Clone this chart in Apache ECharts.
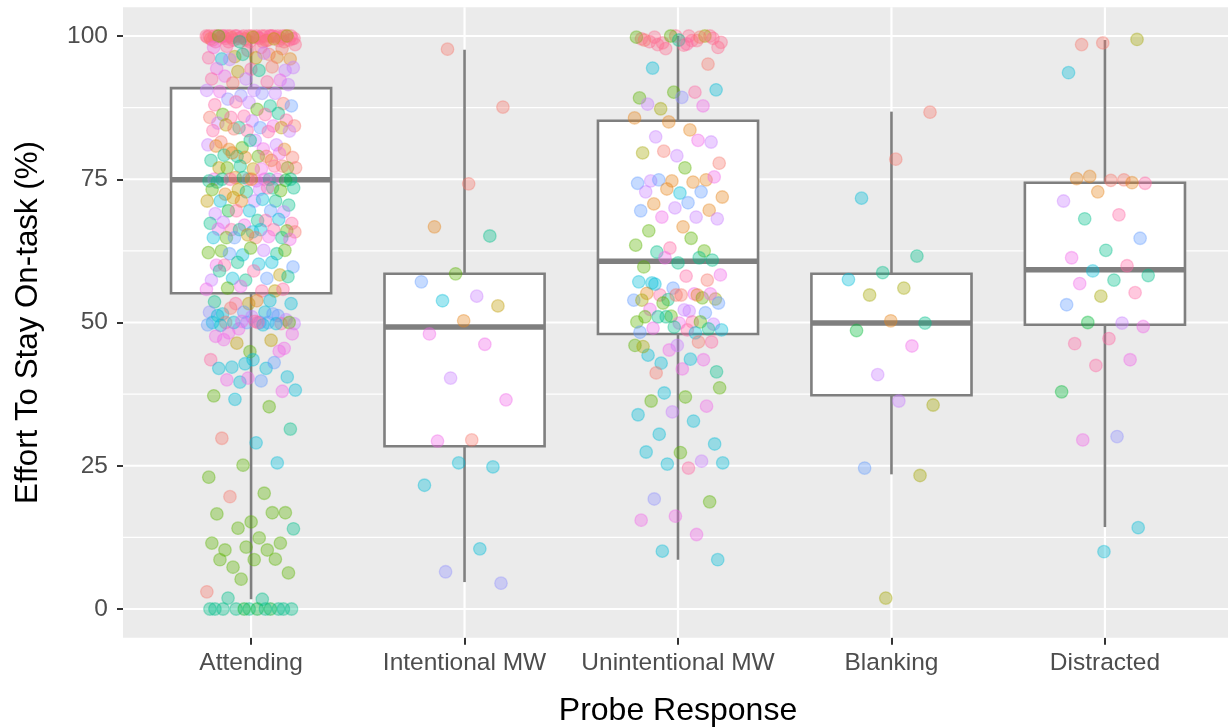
<!DOCTYPE html>
<html><head><meta charset="utf-8">
<script src="https://cdn.jsdelivr.net/npm/echarts@6/dist/echarts.min.js"></script>
<style>html,body{margin:0;padding:0;background:#fff}#c{width:1228px;height:727px}</style>
</head><body><div id="c"></div>
<script>
// ---- data ----
const categories = ['Attending', 'Intentional MW', 'Unintentional MW', 'Blanking', 'Distracted'];
const yTicks = [0, 25, 50, 75, 100];
const yMinorTicks = [12.5, 37.5, 62.5, 87.5];

const boxMin    = [1.7, 4.7, 8.6, 23.5, 14.3];
const boxQ1     = [55.1, 28.4, 48.0, 37.3, 49.6];
const boxMedian = [74.9, 49.2, 60.7, 49.9, 59.2];
const boxQ3     = [90.9, 58.5, 85.2, 58.5, 74.4];
const boxMax    = [100, 97.6, 100, 86.8, 99.3];

// points: [value, participant colour group]
const attendingPoints = [
 [100,'h'],[100,'h'],[100,'h'],[100,'h'],[100,'h'],[100,'h'],[100,'h'],[100,'h'],[100,'h'],[100,'h'],
 [100,'h'],[100,'h'],[100,'h'],[100,'h'],[100,'h'],[100,'h'],[100,'h'],[100,'h'],[100,'h'],[100,'h'],
 [99.6,'h'],[99.6,'h'],[99.6,'h'],[99.6,'h'],[99.6,'h'],[99.3,'h'],[99.3,'h'],[99.3,'h'],[99.3,'h'],[99.3,'h'],
 [99.8,'h'],[99.8,'h'],[99.8,'h'],[99.8,'h'],[99.8,'h'],[99.0,'h'],[99.0,'h'],[99.0,'h'],[99.0,'h'],[99.0,'h'],
 [100,'p'],[100,'p'],[99.5,'p'],[99.7,'p'],[100,'p'],[99.2,'p'],
 [99.5,'r'],[99.5,'r'],[99.2,'r'],[99.7,'r'],[100,'l'],[99.8,'l'],[100,'g'],[99.5,'y'],[99,'t'],
 [98.5,'h'],[98,'h'],[98.2,'p'],[97.8,'r'],[97.5,'h'],[98,'m'],
 [96.8,'r'],[96.4,'y'],[96,'o'],[96.2,'y'],[96,'c'],[96.3,'o'],[96.8,'t'],[96.2,'p'],[97,'v'],[95.9,'v'],
 [94,'v'],[94.2,'p'],[94.3,'m'],[94.6,'r'],[93.8,'y'],[94.5,'v'],[94,'t'],[93,'m'],
 [92.3,'m'],[92.5,'v'],[92.5,'p'],[92,'p'],[91.8,'r'],[91.5,'v'],
 [90.5,'v'],[90.3,'m'],[90,'v'],[89.6,'B'],[90.5,'v'],[90,'B'],[89,'B'],
 [88.2,'r'],[88.4,'v'],[88,'p'],[87.8,'t'],[88.5,'p'],[87.8,'b'],[87.2,'g'],
 [86.3,'g'],[86.5,'t'],[86,'p'],[85.8,'r'],[86.3,'p'],[85.8,'p'],[85.3,'p'],[85.2,'v'],[84.8,'v'],
 [84.3,'m'],[84,'t'],[84.3,'r'],[84,'b'],[84.5,'y'],[84,'y'],[83.5,'p'],
 [83.5,'p'],[83.3,'p'],[83.8,'r'],[83.4,'v'],
 [81.8,'v'],[81.5,'r'],[81,'v'],[80.5,'g'],[81,'v'],[80.3,'m'],[80.2,'o'],[80.2,'o'],[81.8,'t'],[80.8,'o'],
 [78.3,'o'],[79,'t'],[78.8,'r'],[79,'g'],[79.2,'t'],[79.5,'m'],[78.8,'o'],[78.3,'t'],[79,'r'],[79.6,'o'],
 [77,'g'],[76.8,'y'],[77,'y'],[77.3,'p'],[77.3,'t'],[77,'r'],[76.8,'m'],[77,'g'],[77.3,'r'],
 [75,'p'],[75,'m'],[75,'t'],[75.3,'o'],[75,'t'],[74.7,'m'],[75,'t'],[75,'m'],[75.3,'t'],[74.7,'t'],
 [75,'m'],[75,'p'],[74.8,'G'],[75,'o'],[74.5,'t'],
 [73.5,'t'],[73.2,'y'],[73.5,'t'],[73.2,'v'],[72.4,'o'],[73,'g'],[72.8,'t'],[73.2,'g'],[73.5,'p'],
 [71.8,'y'],[70.5,'t'],[71.2,'v'],[71.2,'c'],[71.2,'t'],[71.2,'o'],[71.2,'y'],[71.5,'c'],
 [69.5,'G'],[69.3,'v'],[69.5,'c'],[69,'v'],[69.5,'b'],[69.5,'p'],
 [67.3,'p'],[67.8,'t'],[67.5,'v'],[68,'c'],[67,'m'],[67.3,'t'],[67.8,'p'],
 [66.2,'p'],[66,'g'],[65.8,'c'],[66.3,'m'],[66.2,'p'],[66.2,'t'],[65.8,'r'],[66.2,'c'],
 [64.8,'g'],[64.8,'t'],[65.3,'y'],[64.8,'c'],[65,'m'],[64.8,'b'],[64.5,'m'],[64.8,'r'],
 [62.5,'g'],[62,'t'],[61.8,'c'],[62.2,'g'],[62.6,'v'],[62,'b'],[62.6,'g'],[63,'g'],
 [60,'m'],[60.5,'c'],[60.5,'t'],[59.7,'b'],[60.2,'c'],[60,'p'],
 [58.3,'y'],[57.4,'t'],[57.4,'v'],[57.7,'b'],[57.7,'c'],[58,'t'],[59,'p'],[59,'t'],
 [55.5,'y'],[56.3,'m'],[55.8,'m'],[55.5,'p'],[56,'g'],[55.8,'p'],
 [53.3,'y'],[53.6,'t'],[53.8,'c'],[53.3,'p'],[53.3,'c'],[53.8,'o'],
 [51.5,'c'],[51.2,'b'],[51.8,'b'],[51.8,'B'],[51.8,'c'],[52.5,'r'],[50.5,'v'],[51,'v'],[51.2,'c'],[51.5,'b'],
 [48.9,'m'],[49.8,'v'],[50,'b'],[50,'r'],[49.8,'p'],[50,'b'],
 [50,'c'],[50,'b'],[50,'c'],[50,'g'],[50.2,'p'],[49.5,'c'],[49.8,'c'],[50.2,'m'],[49.6,'b'],[49.6,'c'],
 [48.2,'m'],[45.5,'m'],[44.9,'g'],[47.6,'m'],[46.9,'y'],[46.4,'y'],[48,'m'],[50,'p'],[47,'m'],[45,'m'],
 [42.8,'c'],[43.5,'p'],[42,'c'],[42.2,'c'],[40.5,'c'],[43.5,'c'],[42,'c'],[43,'b'],
 [39.6,'c'],[38.2,'c'],[39.8,'b'],[40,'m'],[38,'m'],[40.3,'m'],[37.2,'g'],[35.3,'g'],[36.6,'c'],
 [31.4,'t'],[29,'c'],[29.8,'r'],[25.5,'c'],[25.1,'g'],[23,'g'],[20.2,'g'],[19.6,'r'],
 [16.8,'g'],[15.2,'g'],[16.6,'g'],[16.8,'g'],[14.1,'g'],[14,'t'],[12.4,'g'],[10.3,'g'],[11.5,'g'],
 [10.8,'g'],[11.5,'g'],[10.3,'g'],[7.3,'g'],[6.3,'g'],[8.6,'g'],[8.6,'g'],[8.7,'g'],[5.2,'g'],[3,'r'],
 [1.7,'t'],[1.9,'t'],
 [0,'t'],[0,'t'],[0,'t'],[0,'G'],[0,'t'],[0,'t'],[0,'G'],[0,'t'],[0,'t'],[0,'G'],[0,'t'],[0,'t']
];

const intentionalPoints = [
 [97.7,'r'],[87.6,'r'],[74.2,'r'],[66.7,'o'],[65.1,'t'],[58.5,'g'],[57.1,'b'],[54.6,'v'],
 [53.8,'c'],[52.9,'y'],[50.3,'o'],[48,'m'],[46.2,'m'],[40.3,'v'],[36.5,'m'],[29.5,'r'],
 [29.3,'m'],[24.8,'c'],[25.5,'c'],[21.6,'c'],[10.5,'c'],[6.5,'B'],[4.5,'B']
];

const unintentionalPoints = [
 [100,'h'],[99.8,'h'],[100,'h'],[100,'h'],[99.5,'h'],[99.2,'h'],[98.8,'h'],[98,'h'],[98.4,'h'],[99,'h'],
 [100,'l'],[100,'g'],[99.8,'g'],[99.2,'h'],[98.5,'h'],[99.6,'h'],[99.3,'t'],[99.3,'r'],[99.8,'r'],[97.8,'h'],
 [98.9,'h'],[98.6,'p'],
 [94.4,'c'],[95.1,'r'],[90.2,'g'],[89.2,'g'],[90.2,'p'],[87.3,'l'],[90.6,'c'],[89.3,'B'],[88.1,'v'],[87.8,'m'],
 [85,'o'],[85.7,'o'],[83.6,'o'],[82.4,'v'],[81.5,'v'],[79.1,'v'],[79.6,'l'],[81.8,'m'],[79.9,'r'],[77.8,'r'],
 [77,'g'],[74.7,'v'],[74.9,'o'],[74.7,'o'],[74.3,'b'],[74.5,'o'],[74.9,'b'],[75.4,'m'],[72.6,'c'],[72.8,'v'],
 [72.8,'b'],[73.3,'o'],[71.9,'o'],[70.9,'b'],[70.7,'o'],[69.6,'o'],[70,'v'],[69.5,'b'],[68.4,'v'],[68.4,'m'],
 [68.1,'v'],[66.7,'o'],[66,'g'],[62.5,'g'],[63,'p'],[63.5,'g'],[64.7,'g'],[62.3,'t'],[60.9,'t'],[60.4,'t'],
 [59.7,'g'],[61.3,'t'],[61.3,'m'],[58.3,'m'],[58.1,'p'],[56.9,'c'],[57.4,'r'],[56,'b'],[57.1,'c'],[55,'m'],
 [54.8,'p'],[54.1,'l'],[54.8,'r'],[55.1,'o'],[54.3,'g'],[54,'t'],[53.9,'b'],[52,'v'],[56.7,'c'],[55,'m'],
 [54.8,'r'],[53.9,'l'],[54.8,'o'],[53.4,'g'],[53.4,'b'],[52.2,'v'],[52.3,'m'],[51.7,'b'],[51.1,'g'],[50.1,'g'],
 [50.1,'p'],[51,'t'],[49.7,'v'],[49.9,'m'],[51,'g'],[50.1,'g'],[51,'t'],[48.7,'c'],[48.7,'p'],[49,'m'],
 [48.9,'t'],[49.2,'t'],[48.3,'b'],[48.2,'c'],
 [42.9,'c'],[41.4,'t'],[41.9,'m'],[44.3,'c'],[43.5,'m'],[45.2,'m'],[46,'g'],[43.6,'c'],[41.2,'r'],[46.6,'p'],
 [46,'v'],[45.8,'l'],[46.6,'r'],[37.7,'c'],[38.6,'g'],[37,'g'],[36.3,'g'],[35.4,'m'],[34.4,'v'],[33.9,'c'],
 [32.8,'c'],[30.5,'c'],[28.8,'c'],[27.3,'g'],[27.4,'c'],[25.8,'v'],[25.3,'c'],[25.5,'c'],[24.6,'p'],[19.2,'B'],
 [18.7,'g'],[16.2,'m'],[15.5,'m'],[13,'m'],[10.1,'c'],[8.6,'c']
];

const blankingPoints = [
 [86.7,'r'],[78.5,'r'],[71.7,'c'],[61.6,'t'],[58.7,'t'],[57.5,'c'],[56,'l'],[54.8,'l'],[49.9,'t'],
 [50.3,'o'],[48.6,'G'],[45.9,'m'],[40.9,'v'],[35.6,'l'],[36.3,'v'],[24.6,'b'],[23.3,'l'],[1.9,'l']
];

const distractedPoints = [
 [98.5,'r'],[99.4,'l'],[98.8,'r'],[93.6,'c'],[74.9,'r'],[75.5,'o'],[74.3,'p'],[74.8,'r'],[75.1,'o'],[74.4,'o'],
 [72.8,'o'],[71.2,'v'],[68.8,'p'],[68.1,'t'],[64.7,'b'],[62.6,'t'],[61.3,'m'],[59.9,'p'],[59,'c'],[58.2,'t'],
 [57.4,'t'],[56.8,'m'],[55.2,'p'],[54.6,'l'],[53.1,'b'],[49.9,'v'],[50,'G'],[49.3,'m'],[47.2,'p'],[46.3,'p'],
 [43.5,'m'],[42.5,'p'],[37.9,'G'],[30.1,'B'],[29.5,'m'],[14.2,'c'],[10,'c']
];

const groupPoints = [attendingPoints, intentionalPoints, unintentionalPoints, blankingPoints, distractedPoints];

// ---- styles ----
const palette = {
  h:'#FF6C91', p:'#FF67A4', r:'#F8766D', o:'#E7861B', y:'#C09B00', l:'#A3A500',
  g:'#5BB300', G:'#00BA38', t:'#00C08B', c:'#00BCD8', b:'#619CFF', B:'#8F91FF',
  v:'#C77CFF', m:'#F066EA'
};
const FONT = '"Liberation Sans", Arial, Helvetica, sans-serif';
const BOX_COLOR = '#7F7F7F';

// deterministic spread of the jitter (low-discrepancy sequence)
function jitter(i, g) { const u = (i * 0.6180339887 + 0.31 * g) % 1; return (u - 0.5) * 0.42; }

const scatterData = [];
groupPoints.forEach((pts, g) => {
  pts.forEach((pt, i) => {
    const col = palette[pt[1]];
    scatterData.push({ value: [g + 1 + jitter(i, g), pt[0]], itemStyle: { color: col, borderColor: col } });
  });
});

const boxData = categories.map((c, i) => [i + 1, boxMin[i], boxQ1[i], boxMedian[i], boxQ3[i], boxMax[i]]);

const chart = echarts.init(document.getElementById('c'), null, { renderer: 'canvas' });

chart.setOption({
  animation: false,
  backgroundColor: '#ffffff',
  grid: { left: 123, right: -5, top: 7.35, bottom: 89.35, show: true, backgroundColor: '#EBEBEB', borderWidth: 0,
          containLabel: false, outerBoundsMode: 'none' },
  xAxis: {
    type: 'value', min: 0.4, max: 5.6,
    axisLine: { show: false, onZero: false },
    splitLine: { show: false },
    axisTick: { show: true, customValues: [1, 2, 3, 4, 5], length: 7, lineStyle: { color: '#333333', width: 2 } },
    axisLabel: { customValues: [1, 2, 3, 4, 5], formatter: v => categories[Math.round(v) - 1], color: '#4D4D4D', fontSize: 24.5, fontFamily: FONT, margin: 13 },
    name: 'Probe Response', nameLocation: 'middle', nameGap: 58,
    nameTextStyle: { color: '#000000', fontSize: 32, fontFamily: FONT }
  },
  yAxis: {
    type: 'value', min: -5, max: 105,
    axisLine: { show: false, onZero: false },
    splitLine: { show: false },
    axisTick: { show: true, customValues: yTicks, length: 6, lineStyle: { color: '#333333', width: 2 } },
    axisLabel: { customValues: yTicks, color: '#4D4D4D', fontSize: 24.5, fontFamily: FONT, margin: 15 },
    name: 'Effort To Stay On-task (%)', nameLocation: 'middle', nameGap: 79, nameRotate: 90,
    nameTextStyle: { color: '#000000', fontSize: 31.3, fontFamily: FONT }
  },
  series: [
    { // minor horizontal grid
      type: 'custom', z: 1, silent: true,
      data: yMinorTicks.map(v => [1, v]),
      renderItem: (params, api) => {
        const cs = params.coordSys; const p = api.coord([1, api.value(1)]);
        return { type: 'line', shape: { x1: cs.x, y1: p[1], x2: cs.x + cs.width, y2: p[1] }, style: { stroke: '#FFFFFF', lineWidth: 1.1 } };
      }
    },
    { // major horizontal grid
      type: 'custom', z: 1, silent: true,
      data: yTicks.map(v => [1, v]),
      renderItem: (params, api) => {
        const cs = params.coordSys; const p = api.coord([1, api.value(1)]);
        return { type: 'line', shape: { x1: cs.x, y1: p[1], x2: cs.x + cs.width, y2: p[1] }, style: { stroke: '#FFFFFF', lineWidth: 2.2 } };
      }
    },
    { // vertical grid at categories
      type: 'custom', z: 1, silent: true,
      data: categories.map((c, i) => [i + 1, 50]),
      renderItem: (params, api) => {
        const cs = params.coordSys; const p = api.coord([api.value(0), 50]);
        return { type: 'line', shape: { x1: p[0], y1: cs.y, x2: p[0], y2: cs.y + cs.height }, style: { stroke: '#FFFFFF', lineWidth: 2.2 } };
      }
    },
    { // box plots
      type: 'custom', z: 2, silent: true,
      data: boxData,
      encode: { x: 0, y: [1, 2, 3, 4, 5] },
      renderItem: (params, api) => {
        const x = api.value(0);
        const pMin = api.coord([x, api.value(1)]);
        const pQ1 = api.coord([x, api.value(2)]);
        const pMed = api.coord([x, api.value(3)]);
        const pQ3 = api.coord([x, api.value(4)]);
        const pMax = api.coord([x, api.value(5)]);
        const left = api.coord([x - 0.375, 0])[0];
        const right = api.coord([x + 0.375, 0])[0];
        const ls = { stroke: BOX_COLOR, lineWidth: 2.6 };
        return { type: 'group', children: [
          { type: 'line', shape: { x1: pMin[0], y1: pMin[1], x2: pQ1[0], y2: pQ1[1] }, style: ls },
          { type: 'line', shape: { x1: pQ3[0], y1: pQ3[1], x2: pMax[0], y2: pMax[1] }, style: ls },
          { type: 'rect', shape: { x: left, y: pQ3[1], width: right - left, height: pQ1[1] - pQ3[1] }, style: { fill: '#FFFFFF', stroke: BOX_COLOR, lineWidth: 2.6 } },
          { type: 'line', shape: { x1: left, y1: pMed[1], x2: right, y2: pMed[1] }, style: { stroke: BOX_COLOR, lineWidth: 5.5 } }
        ] };
      }
    },
    { // jittered points
      type: 'scatter', z: 3, silent: true,
      symbol: 'circle', symbolSize: 12.5,
      itemStyle: { opacity: 0.36, borderWidth: 1.3 },
      data: scatterData
    }
  ]
});
</script>
</body></html>
